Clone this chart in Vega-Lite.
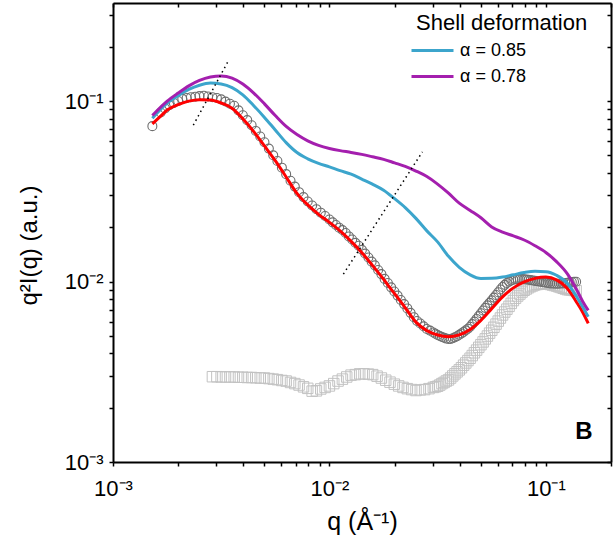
{
"$schema": "https://vega.github.io/schema/vega-lite/v6.json",
"width": 498, "height": 459,
"autosize": "none",
"padding": {"left": 113, "top": 3, "right": 2, "bottom": 77},
"background": "white",
"config": {"view": {"stroke": null}, "font": "Liberation Sans"},
"datasets": {
"sq": [
{"q":0.00288,"v":0.00297},{"q":0.00302,"v":0.00297},{"q":0.00316,"v":0.00296},{"q":0.00331,"v":0.00296},{"q":0.00347,"v":0.00296},{"q":0.00363,"v":0.00296},{"q":0.0038,"v":0.00295},{"q":0.00398,"v":0.00295},{"q":0.00417,"v":0.00294},{"q":0.00437,"v":0.00294},{"q":0.00457,"v":0.00293},{"q":0.00479,"v":0.00292},{"q":0.00501,"v":0.00292},{"q":0.00525,"v":0.0029},{"q":0.0055,"v":0.00288},{"q":0.00575,"v":0.00286},{"q":0.00603,"v":0.00283},{"q":0.00631,"v":0.00281},{"q":0.00661,"v":0.00276},{"q":0.00692,"v":0.00272},{"q":0.00724,"v":0.00267},{"q":0.00759,"v":0.00261},{"q":0.00794,"v":0.00256},{"q":0.00832,"v":0.00247},{"q":0.00871,"v":0.00248},{"q":0.00912,"v":0.00254},{"q":0.00955,"v":0.00259},{"q":0.01,"v":0.00264},{"q":0.01047,"v":0.00272},{"q":0.01096,"v":0.00281},{"q":0.01148,"v":0.00288},{"q":0.01202,"v":0.00296},{"q":0.01259,"v":0.00303},{"q":0.01318,"v":0.00305},{"q":0.0138,"v":0.00308},{"q":0.01445,"v":0.00308},{"q":0.01514,"v":0.00307},{"q":0.01585,"v":0.00305},{"q":0.0166,"v":0.00299},{"q":0.01738,"v":0.00292},{"q":0.0182,"v":0.00284},{"q":0.01905,"v":0.00277},{"q":0.01995,"v":0.0027},{"q":0.02089,"v":0.00264},{"q":0.02188,"v":0.00259},{"q":0.02291,"v":0.00255},{"q":0.02399,"v":0.00252},{"q":0.02512,"v":0.00249},{"q":0.0263,"v":0.00251},{"q":0.02754,"v":0.00252},{"q":0.02884,"v":0.00255},{"q":0.0302,"v":0.00259},
{"q":0.0309,"v":0.00261},{"q":0.03162,"v":0.00263},{"q":0.03236,"v":0.00267},{"q":0.03311,"v":0.00272},{"q":0.03388,"v":0.00276},{"q":0.03467,"v":0.00281},{"q":0.03548,"v":0.00285},{"q":0.03631,"v":0.00292},{"q":0.03715,"v":0.003},{"q":0.03802,"v":0.00308},{"q":0.0389,"v":0.00316},{"q":0.03981,"v":0.00324},{"q":0.04074,"v":0.00333},{"q":0.04169,"v":0.00344},{"q":0.04266,"v":0.00354},{"q":0.04365,"v":0.00365},{"q":0.04467,"v":0.00376},{"q":0.04571,"v":0.00389},{"q":0.04677,"v":0.00403},{"q":0.04786,"v":0.00417},{"q":0.04898,"v":0.00432},{"q":0.05012,"v":0.00447},{"q":0.05129,"v":0.00463},{"q":0.05248,"v":0.00481},{"q":0.0537,"v":0.00499},{"q":0.05495,"v":0.00518},{"q":0.05623,"v":0.00537},{"q":0.05754,"v":0.00558},{"q":0.05888,"v":0.00581},{"q":0.06026,"v":0.00604},{"q":0.06166,"v":0.00628},{"q":0.0631,"v":0.00653},{"q":0.06457,"v":0.00678},{"q":0.06607,"v":0.00703},{"q":0.06761,"v":0.00729},{"q":0.06918,"v":0.00757},{"q":0.07079,"v":0.00785},{"q":0.07244,"v":0.00809},{"q":0.07413,"v":0.00832},{"q":0.07586,"v":0.00853},{"q":0.07762,"v":0.00875},{"q":0.07943,"v":0.00895},{"q":0.08128,"v":0.0091},{"q":0.08318,"v":0.00925},{"q":0.08511,"v":0.00938},{"q":0.0871,"v":0.00948},{"q":0.08913,"v":0.00959},{"q":0.0912,"v":0.00964},{"q":0.09333,"v":0.00968},{"q":0.0955,"v":0.00973},{"q":0.09772,"v":0.00975},{"q":0.1,"v":0.00977},{"q":0.1023,"v":0.00971},{"q":0.1047,"v":0.00964},{"q":0.1072,"v":0.00957},{"q":0.1096,"v":0.00951},{"q":0.1122,"v":0.00944},{"q":0.1148,"v":0.00935},{"q":0.1175,"v":0.00927},{"q":0.1202,"v":0.00918},{"q":0.123,"v":0.0091},{"q":0.1259,"v":0.00902},{"q":0.1288,"v":0.009},{"q":0.1318,"v":0.00898},{"q":0.1349,"v":0.00893},{"q":0.138,"v":0.00891}
],
"ci": [
{"q":0.00152,"v":0.0727},{"q":0.00166,"v":0.0865},{"q":0.00174,"v":0.0912},{"q":0.00182,"v":0.0951},{"q":0.00191,"v":0.0977},{"q":0.002,"v":0.1002},{"q":0.00209,"v":0.103},{"q":0.00219,"v":0.1042},{"q":0.00229,"v":0.1052},{"q":0.0024,"v":0.1059},{"q":0.00251,"v":0.1067},{"q":0.00263,"v":0.1072},{"q":0.00275,"v":0.1062},{"q":0.00288,"v":0.1052},{"q":0.00302,"v":0.1042},{"q":0.00316,"v":0.1023},{"q":0.00331,"v":0.0995},{"q":0.00347,"v":0.0968},{"q":0.00363,"v":0.0944},{"q":0.0038,"v":0.0889},{"q":0.00398,"v":0.0836},{"q":0.00417,"v":0.0785},{"q":0.00437,"v":0.0736},{"q":0.00457,"v":0.0684},{"q":0.00479,"v":0.0637},{"q":0.00501,"v":0.0592},{"q":0.00525,"v":0.0546},{"q":0.0055,"v":0.0501},{"q":0.00575,"v":0.0466},{"q":0.00603,"v":0.0428},{"q":0.00631,"v":0.0394},{"q":0.00661,"v":0.0362},{"q":0.00692,"v":0.0336},{"q":0.00724,"v":0.0313},{"q":0.00759,"v":0.0294},{"q":0.00794,"v":0.0278},{"q":0.00832,"v":0.0264},{"q":0.00871,"v":0.0252},{"q":0.00912,"v":0.0241},{"q":0.00955,"v":0.0231},{"q":0.01,"v":0.0221},
{"q":0.01035,"v":0.0213},{"q":0.01072,"v":0.0206},{"q":0.01109,"v":0.0199},{"q":0.01148,"v":0.0193},{"q":0.01189,"v":0.0186},{"q":0.0123,"v":0.0178},{"q":0.01274,"v":0.0171},{"q":0.01318,"v":0.0164},{"q":0.01365,"v":0.0158},{"q":0.01413,"v":0.015},{"q":0.01462,"v":0.0143},{"q":0.01514,"v":0.0136},{"q":0.01567,"v":0.0129},{"q":0.01622,"v":0.0123},{"q":0.01679,"v":0.0116},{"q":0.01738,"v":0.011},{"q":0.01799,"v":0.01035},{"q":0.01862,"v":0.00982},{"q":0.01928,"v":0.00929},{"q":0.01995,"v":0.00881},{"q":0.02065,"v":0.00836},{"q":0.02138,"v":0.00791},{"q":0.02213,"v":0.0075},{"q":0.02291,"v":0.0071},{"q":0.02371,"v":0.00671},{"q":0.02455,"v":0.00635},{"q":0.02541,"v":0.00605},{"q":0.0263,"v":0.00586},{"q":0.02723,"v":0.00565},{"q":0.02818,"v":0.00546},{"q":0.02917,"v":0.00535},{"q":0.0302,"v":0.00522},
{"q":0.0309,"v":0.00514},{"q":0.03162,"v":0.00506},{"q":0.03236,"v":0.00499},{"q":0.03311,"v":0.00493},{"q":0.03388,"v":0.00488},{"q":0.03467,"v":0.00483},{"q":0.03548,"v":0.00481},{"q":0.03631,"v":0.00481},{"q":0.03715,"v":0.00485},{"q":0.03802,"v":0.00491},{"q":0.0389,"v":0.00498},{"q":0.03981,"v":0.00507},{"q":0.04074,"v":0.00516},{"q":0.04169,"v":0.00526},{"q":0.04266,"v":0.00537},{"q":0.04365,"v":0.00548},{"q":0.04467,"v":0.00562},{"q":0.04571,"v":0.00581},{"q":0.04677,"v":0.006},{"q":0.04786,"v":0.00621},{"q":0.04898,"v":0.00644},{"q":0.05012,"v":0.00668},{"q":0.05129,"v":0.00692},{"q":0.05248,"v":0.00715},{"q":0.0537,"v":0.00738},{"q":0.05495,"v":0.00762},{"q":0.05623,"v":0.00787},{"q":0.05754,"v":0.00815},{"q":0.05888,"v":0.00843},{"q":0.06026,"v":0.00873},{"q":0.06166,"v":0.00904},{"q":0.0631,"v":0.00933},{"q":0.06457,"v":0.00959},{"q":0.06607,"v":0.00982},{"q":0.06761,"v":0.01},{"q":0.06918,"v":0.01014},{"q":0.07079,"v":0.01023},{"q":0.07244,"v":0.0103},{"q":0.07413,"v":0.01035},{"q":0.07586,"v":0.01035},{"q":0.07762,"v":0.01033},{"q":0.07943,"v":0.0103},{"q":0.08128,"v":0.01028},{"q":0.08318,"v":0.01023},{"q":0.08511,"v":0.01019},{"q":0.0871,"v":0.01014},{"q":0.08913,"v":0.01009},{"q":0.0912,"v":0.01005},{"q":0.09333,"v":0.01},{"q":0.0955,"v":0.00995},{"q":0.09772,"v":0.00991},{"q":0.1,"v":0.00986},{"q":0.1023,"v":0.00982},{"q":0.1047,"v":0.00977},{"q":0.1072,"v":0.00975},{"q":0.1096,"v":0.00973},{"q":0.1122,"v":0.00973},{"q":0.1148,"v":0.00973},{"q":0.1175,"v":0.00975},{"q":0.1202,"v":0.00977},{"q":0.123,"v":0.00982},{"q":0.1259,"v":0.00986},{"q":0.1288,"v":0.00991},{"q":0.1318,"v":0.00995},{"q":0.1349,"v":0.00998},{"q":0.138,"v":0.00998}
],
"red": [
{"q":0.00152,"v":0.0748},{"q":0.00166,"v":0.0826},{"q":0.00178,"v":0.0893},{"q":0.002,"v":0.0957},{"q":0.00224,"v":0.1},{"q":0.00251,"v":0.1019},{"q":0.00282,"v":0.1014},{"q":0.00316,"v":0.0977},{"q":0.00355,"v":0.0914},{"q":0.00398,"v":0.0798},{"q":0.00447,"v":0.0678},{"q":0.00501,"v":0.0565},{"q":0.00562,"v":0.0468},{"q":0.00631,"v":0.038},{"q":0.00708,"v":0.0308},{"q":0.00794,"v":0.0266},{"q":0.00891,"v":0.0236},{"q":0.01,"v":0.0213},{"q":0.0112,"v":0.0191},{"q":0.0126,"v":0.0167},{"q":0.0141,"v":0.0145},{"q":0.0158,"v":0.0123},{"q":0.0178,"v":0.0103},{"q":0.0191,"v":0.0092},{"q":0.02,"v":0.00857},{"q":0.0224,"v":0.00716},{"q":0.0251,"v":0.00596},{"q":0.0282,"v":0.00535},{"q":0.0316,"v":0.00506},{"q":0.0355,"v":0.00495},{"q":0.0398,"v":0.00507},{"q":0.0447,"v":0.00543},{"q":0.0501,"v":0.0061},{"q":0.0562,"v":0.00708},{"q":0.0631,"v":0.00822},{"q":0.0708,"v":0.00923},{"q":0.0794,"v":0.00995},{"q":0.0891,"v":0.01042},{"q":0.1,"v":0.01059},{"q":0.112,"v":0.01023},{"q":0.126,"v":0.00912},{"q":0.138,"v":0.00776},{"q":0.148,"v":0.00676},{"q":0.157,"v":0.00586}
],
"al": [
{"s":"α = 0.85","q":0.00152,"v":0.0805},{"s":"α = 0.85","q":0.00178,"v":0.0977},{"s":"α = 0.85","q":0.002,"v":0.1072},{"s":"α = 0.85","q":0.00224,"v":0.1161},{"s":"α = 0.85","q":0.00251,"v":0.1225},{"s":"α = 0.85","q":0.00282,"v":0.1259},{"s":"α = 0.85","q":0.00316,"v":0.1245},{"s":"α = 0.85","q":0.00355,"v":0.1189},{"s":"α = 0.85","q":0.00398,"v":0.1084},{"s":"α = 0.85","q":0.00447,"v":0.0944},{"s":"α = 0.85","q":0.00501,"v":0.0813},{"s":"α = 0.85","q":0.00562,"v":0.0692},{"s":"α = 0.85","q":0.00631,"v":0.0589},{"s":"α = 0.85","q":0.00708,"v":0.0519},{"s":"α = 0.85","q":0.00794,"v":0.0479},{"s":"α = 0.85","q":0.00891,"v":0.0452},{"s":"α = 0.85","q":0.01,"v":0.0432},{"s":"α = 0.85","q":0.0112,"v":0.0412},{"s":"α = 0.85","q":0.0126,"v":0.0394},{"s":"α = 0.85","q":0.0141,"v":0.037},{"s":"α = 0.85","q":0.0158,"v":0.0347},{"s":"α = 0.85","q":0.0178,"v":0.0321},{"s":"α = 0.85","q":0.02,"v":0.0288},{"s":"α = 0.85","q":0.0224,"v":0.0257},{"s":"α = 0.85","q":0.0251,"v":0.0224},{"s":"α = 0.85","q":0.0282,"v":0.0191},{"s":"α = 0.85","q":0.0316,"v":0.0166},{"s":"α = 0.85","q":0.0355,"v":0.0138},{"s":"α = 0.85","q":0.0398,"v":0.012},{"s":"α = 0.85","q":0.0447,"v":0.0109},{"s":"α = 0.85","q":0.0501,"v":0.0104},{"s":"α = 0.85","q":0.0562,"v":0.01042},{"s":"α = 0.85","q":0.0631,"v":0.01059},{"s":"α = 0.85","q":0.0708,"v":0.01091},{"s":"α = 0.85","q":0.0794,"v":0.01122},{"s":"α = 0.85","q":0.0891,"v":0.0114},{"s":"α = 0.85","q":0.1,"v":0.01135},{"s":"α = 0.85","q":0.112,"v":0.01084},{"s":"α = 0.85","q":0.126,"v":0.00977},{"s":"α = 0.85","q":0.138,"v":0.00832},{"s":"α = 0.85","q":0.148,"v":0.00724},{"s":"α = 0.85","q":0.157,"v":0.00638},
{"s":"α = 0.78","q":0.00152,"v":0.0832},{"s":"α = 0.78","q":0.00178,"v":0.1},{"s":"α = 0.78","q":0.002,"v":0.1109},{"s":"α = 0.78","q":0.00224,"v":0.1216},{"s":"α = 0.78","q":0.00251,"v":0.1303},{"s":"α = 0.78","q":0.00282,"v":0.1361},{"s":"α = 0.78","q":0.00316,"v":0.138},{"s":"α = 0.78","q":0.00355,"v":0.1343},{"s":"α = 0.78","q":0.00398,"v":0.1245},{"s":"α = 0.78","q":0.00447,"v":0.1109},{"s":"α = 0.78","q":0.00501,"v":0.0966},{"s":"α = 0.78","q":0.00562,"v":0.0832},{"s":"α = 0.78","q":0.00631,"v":0.0724},{"s":"α = 0.78","q":0.00708,"v":0.0653},{"s":"α = 0.78","q":0.00794,"v":0.0603},{"s":"α = 0.78","q":0.00891,"v":0.0569},{"s":"α = 0.78","q":0.01,"v":0.0547},{"s":"α = 0.78","q":0.0112,"v":0.0532},{"s":"α = 0.78","q":0.0126,"v":0.052},{"s":"α = 0.78","q":0.0141,"v":0.0507},{"s":"α = 0.78","q":0.0158,"v":0.0492},{"s":"α = 0.78","q":0.0178,"v":0.0476},{"s":"α = 0.78","q":0.02,"v":0.0455},{"s":"α = 0.78","q":0.0224,"v":0.0435},{"s":"α = 0.78","q":0.0251,"v":0.041},{"s":"α = 0.78","q":0.0282,"v":0.0382},{"s":"α = 0.78","q":0.0316,"v":0.0347},{"s":"α = 0.78","q":0.0355,"v":0.0309},{"s":"α = 0.78","q":0.0398,"v":0.0272},{"s":"α = 0.78","q":0.0447,"v":0.0248},{"s":"α = 0.78","q":0.0501,"v":0.0226},{"s":"α = 0.78","q":0.0562,"v":0.0201},{"s":"α = 0.78","q":0.0631,"v":0.0188},{"s":"α = 0.78","q":0.0708,"v":0.0179},{"s":"α = 0.78","q":0.0794,"v":0.017},{"s":"α = 0.78","q":0.0891,"v":0.0158},{"s":"α = 0.78","q":0.1,"v":0.0145},{"s":"α = 0.78","q":0.112,"v":0.0129},{"s":"α = 0.78","q":0.126,"v":0.011},{"s":"α = 0.78","q":0.138,"v":0.00912},{"s":"α = 0.78","q":0.148,"v":0.00776},{"s":"α = 0.78","q":0.157,"v":0.00692}
],
"dot": [
{"q":0.00235,"v":0.0736,"q2":0.00341,"v2":0.167},
{"q":0.0116,"v":0.011,"q2":0.0269,"v2":0.0524}
],
"lab": [{"q":0.15,"v":0.00147,"t":"B"}]
},
"resolve": {"axis": {"x": "independent", "y": "independent"}},
"layer": [
{
"data": {"name": "sq"},
"mark": {"type": "point", "shape": "square", "filled": false, "size": 110, "stroke": "#c2c2c2", "strokeWidth": 1, "opacity": 1},
"encoding": {
"x": {"field": "q", "type": "quantitative", "scale": {"type": "log", "domain": [0.001, 0.2], "nice": false},
 "axis": {"orient": "bottom", "values": [0.001,0.002,0.003,0.004,0.005,0.006,0.007,0.008,0.009,0.01,0.02,0.03,0.04,0.05,0.06,0.07,0.08,0.09,0.1,0.2],
  "labelExpr": "datum.value == 0.001 ? '10⁻³' : datum.value == 0.01 ? '10⁻²' : datum.value == 0.1 ? '10⁻¹' : ''",
  "labelFont": "Liberation Sans", "labelFontSize": 22, "labelColor": "black", "labelPadding": 12, "labelOverlap": false, "labelFlush": false, "labelBound": false,
  "tickSize": 4, "tickColor": "black", "tickWidth": 1.5, "domainColor": "black", "domainWidth": 2, "grid": false,
  "title": "q (Å⁻¹)", "titleFont": "Liberation Sans", "titleFontSize": 25, "titleFontWeight": "normal", "titleColor": "black",
  "titleX": 249, "titleY": 59, "titleAlign": "center", "titleBaseline": "middle"}},
"y": {"field": "v", "type": "quantitative", "scale": {"type": "log", "domain": [0.001, 0.35], "nice": false},
 "axis": {"orient": "left", "values": [0.001,0.002,0.003,0.004,0.005,0.006,0.007,0.008,0.009,0.01,0.02,0.03,0.04,0.05,0.06,0.07,0.08,0.09,0.1,0.2,0.3],
  "labelExpr": "datum.value == 0.001 ? '10⁻³' : datum.value == 0.01 ? '10⁻²' : datum.value == 0.1 ? '10⁻¹' : ''",
  "labelFont": "Liberation Sans", "labelFontSize": 22, "labelColor": "black", "labelPadding": 6, "labelOverlap": false, "labelFlush": false, "labelBound": false,
  "tickSize": 4, "tickColor": "black", "tickWidth": 1.5, "domainColor": "black", "domainWidth": 2, "grid": false,
  "title": "q²I(q) (a.u.)", "titleFont": "Liberation Sans", "titleFontSize": 24, "titleFontWeight": "normal", "titleColor": "black",
  "titleX": -84, "titleY": 242, "titleAngle": 270, "titleAlign": "center", "titleBaseline": "middle"}}
}
},
{
"data": {"name": "ci"},
"mark": {"type": "point", "shape": "circle", "filled": false, "size": 80, "stroke": "#6e6e6e", "strokeWidth": 1.1, "opacity": 1},
"encoding": {
"x": {"field": "q", "type": "quantitative", "scale": {"type": "log", "domain": [0.001, 0.2], "nice": false},
 "axis": {"orient": "top", "values": [0.001,0.002,0.003,0.004,0.005,0.006,0.007,0.008,0.009,0.01,0.02,0.03,0.04,0.05,0.06,0.07,0.08,0.09,0.1,0.2],
  "labels": false, "tickSize": -4, "tickColor": "black", "tickWidth": 1.5, "domainColor": "black", "domainWidth": 2, "grid": false, "title": null}},
"y": {"field": "v", "type": "quantitative", "scale": {"type": "log", "domain": [0.001, 0.35], "nice": false},
 "axis": {"orient": "right", "values": [0.001,0.002,0.003,0.004,0.005,0.006,0.007,0.008,0.009,0.01,0.02,0.03,0.04,0.05,0.06,0.07,0.08,0.09,0.1,0.2,0.3],
  "labels": false, "tickSize": -4, "tickColor": "black", "tickWidth": 1.5, "domainColor": "black", "domainWidth": 2, "grid": false, "title": null}}
}
},
{
"data": {"name": "red"},
"mark": {"type": "line", "color": "#ff0000", "strokeWidth": 3, "interpolate": "monotone"},
"encoding": {
"x": {"field": "q", "type": "quantitative", "scale": {"type": "log", "domain": [0.001, 0.2], "nice": false}, "axis": null},
"y": {"field": "v", "type": "quantitative", "scale": {"type": "log", "domain": [0.001, 0.35], "nice": false}, "axis": null}
}
},
{
"data": {"name": "al"},
"mark": {"type": "line", "strokeWidth": 3, "interpolate": "monotone"},
"encoding": {
"x": {"field": "q", "type": "quantitative", "scale": {"type": "log", "domain": [0.001, 0.2], "nice": false}, "axis": null},
"y": {"field": "v", "type": "quantitative", "scale": {"type": "log", "domain": [0.001, 0.35], "nice": false}, "axis": null},
"color": {"field": "s", "type": "nominal", "scale": {"domain": ["α = 0.85", "α = 0.78"], "range": ["#3ca5cc", "#a41fae"]},
 "legend": {"orient": "none", "legendX": 303, "legendY": 10, "title": "Shell deformation", "titleFont": "Liberation Sans", "titleFontSize": 22, "titleFontWeight": "normal", "titleColor": "black", "titlePadding": -1,
  "labelFont": "Liberation Sans", "labelFontSize": 18, "labelColor": "black", "symbolType": "M-1.4,0H1.4", "symbolSize": 900, "symbolStrokeWidth": 3, "rowPadding": -3, "padding": 0, "labelOffset": 11}}
}
},
{
"data": {"name": "dot"},
"mark": {"type": "rule", "strokeDash": [1.5, 3.5], "strokeWidth": 1.5, "color": "black"},
"encoding": {
"x": {"field": "q", "type": "quantitative", "scale": {"type": "log", "domain": [0.001, 0.2], "nice": false}, "axis": null},
"x2": {"field": "q2"},
"y": {"field": "v", "type": "quantitative", "scale": {"type": "log", "domain": [0.001, 0.35], "nice": false}, "axis": null},
"y2": {"field": "v2"}
}
},
{
"data": {"name": "lab"},
"mark": {"type": "text", "font": "Liberation Sans", "fontSize": 24, "fontWeight": "bold", "color": "black", "align": "center", "baseline": "middle"},
"encoding": {
"x": {"field": "q", "type": "quantitative", "scale": {"type": "log", "domain": [0.001, 0.2], "nice": false}, "axis": null},
"y": {"field": "v", "type": "quantitative", "scale": {"type": "log", "domain": [0.001, 0.35], "nice": false}, "axis": null},
"text": {"field": "t"}
}
}
]
}
